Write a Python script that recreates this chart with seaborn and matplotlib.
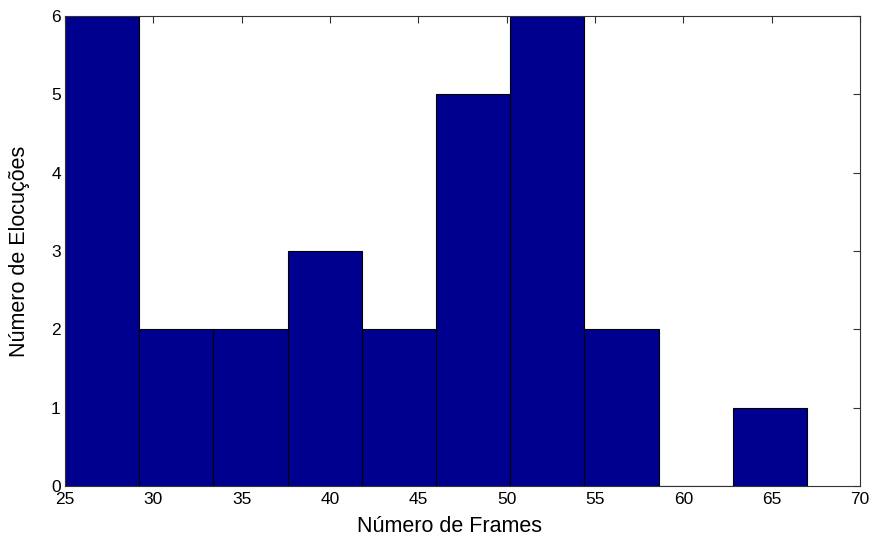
import numpy as np
import matplotlib
matplotlib.use("Agg")
import matplotlib.pyplot as plt
import seaborn as sns

bin_edges = [25.0, 29.2, 33.4, 37.6, 41.8, 46.0, 50.2, 54.4, 58.6, 62.8, 67.0]
counts = [6, 2, 2, 3, 2, 5, 6, 2, 0, 1]
x_ticks = [25, 30, 35, 40, 45, 50, 55, 60, 65, 70]
y_ticks = [0, 1, 2, 3, 4, 5, 6]

sns.set_style("white")
plt.rcParams['font.family'] = ['Liberation Sans', 'DejaVu Sans']
plt.rcParams['text.color'] = 'black'
plt.rcParams['axes.labelcolor'] = 'black'
plt.rcParams['xtick.color'] = 'black'
plt.rcParams['ytick.color'] = 'black'

centers = [(a + b) / 2 for a, b in zip(bin_edges[:-1], bin_edges[1:])]

fig = plt.figure(figsize=(8.72, 5.41), dpi=100)
ax = fig.add_axes([65 / 872, 1 - 486 / 541, (860 - 65) / 872, (486 - 16) / 541])
sns.histplot(x=centers, weights=counts, bins=bin_edges, ax=ax,
             color="#00008F", alpha=1.0, edgecolor="black", linewidth=0.8)
ax.set_xlim(25, 70)
ax.set_ylim(0, 6)
ax.set_xticks(x_ticks)
ax.set_yticks(y_ticks)
ax.tick_params(direction="in", length=5, labelsize=12.5, top=True, right=True,
               labeltop=False, labelright=False, color="#333333",
               labelcolor="black")
ax.tick_params(axis="x", pad=4)
ax.tick_params(axis="y", pad=3)
for s in ax.spines.values():
    s.set_visible(True)
    s.set_color("#333333")
    s.set_linewidth(0.8)
ax.set_xlabel("Número de Frames", fontsize=15.5, color="black")
ax.set_ylabel("Número de Elocuções", fontsize=15.5, color="black")
ax.xaxis.set_label_coords((449.5 - 65) / 795, (486 - 526) / 470)
ax.xaxis.label.set_va("center")
ax.yaxis.set_label_coords((20 - 65) / 795, 0.5)
ax.yaxis.label.set_va("center")
fig.savefig("out.png", dpi=100)
